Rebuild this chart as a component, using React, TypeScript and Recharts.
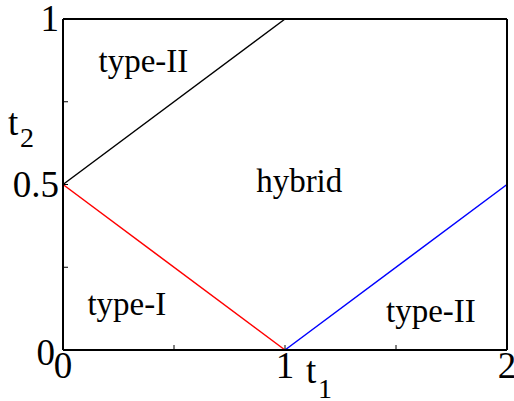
import { LineChart, Line, XAxis, YAxis, ReferenceDot } from 'recharts';

// phase boundaries in (t1, t2)
const upperBoundary = [
  { t1: 0, t2: 0.5 },
  { t1: 1, t2: 1 },
];
const lowerBoundary = [
  { t1: 0, t2: 0.5 },
  { t1: 1, t2: 0 },
];
const rightBoundary = [
  { t1: 1, t2: 0 },
  { t1: 2, t2: 0.5 },
];

const xTicks = [0, 0.5, 1, 1.5, 2];
const yTicks = [0, 0.25, 0.5, 0.75, 1];
const xTickLabels: Record<string, string> = { '0': '0', '1': '1', '2': '2' };
const yTickLabels: Record<string, string> = { '0': '0', '0.5': '0.5', '1': '1' };

const regionLabels = [
  { text: 'type-II', t1: 0.16, t2: 0.84 },
  { text: 'hybrid', t1: 0.87, t2: 0.477 },
  { text: 'type-I', t1: 0.11, t2: 0.106 },
  { text: 'type-II', t1: 1.455, t2: 0.085 },
];

const FONT = "'Liberation Serif', 'Times New Roman', serif";
const textStyle = { fontFamily: FONT };
const TICK_LEN = 5;
const TICK_FONT = 37;

function BottomTick({ x, y, payload }: any) {
  const label = xTickLabels[String(payload.value)];
  return (
    <g>
      <line x1={x} x2={x} y1={y} y2={y - TICK_LEN} stroke="#000" strokeWidth={1} />
      {label && (
        <text x={x} y={y + 28} textAnchor="middle" fontSize={TICK_FONT} style={textStyle} fill="#000">
          {label}
        </text>
      )}
    </g>
  );
}

function TopTick({ x, y }: any) {
  return <line x1={x} x2={x} y1={y} y2={y + TICK_LEN} stroke="#000" strokeWidth={1} />;
}

function LeftTick({ x, y, payload }: any) {
  const label = yTickLabels[String(payload.value)];
  const isZero = payload.value === 0;
  return (
    <g>
      <line x1={x} x2={x + TICK_LEN} y1={y} y2={y} stroke="#000" strokeWidth={1} />
      {label && (
        <text
          x={x - (isZero ? 8 : 4)}
          y={y + (isZero ? 15 : 12)}
          textAnchor="end"
          fontSize={TICK_FONT}
          style={textStyle}
          fill="#000"
        >
          {label}
        </text>
      )}
    </g>
  );
}

function RightTick({ x, y }: any) {
  return <line x1={x} x2={x - TICK_LEN} y1={y} y2={y} stroke="#000" strokeWidth={1} />;
}

function RegionText({ viewBox, value }: any) {
  return (
    <text x={viewBox.x} y={viewBox.y} fontSize={33} style={textStyle} fill="#000">
      {value}
    </text>
  );
}

const axisLine = { stroke: '#000', strokeWidth: 2 };

export default function App() {
  return (
    <div style={{ position: 'absolute', left: 0, top: 0, width: 514, height: 401, background: '#fff' }}>
      <LineChart width={514} height={401} margin={{ top: 18, right: 6, bottom: 50, left: 62 }}>
        <XAxis
          dataKey="t1"
          type="number"
          domain={[0, 2]}
          ticks={xTicks}
          height={1}
          tickSize={0}
          tickMargin={0}
          tickLine={false}
          axisLine={axisLine}
          tick={<BottomTick />}
          interval={0}
        />
        <XAxis
          xAxisId="top"
          orientation="top"
          dataKey="t1"
          type="number"
          domain={[0, 2]}
          ticks={xTicks}
          height={1}
          tickSize={0}
          tickMargin={0}
          tickLine={false}
          axisLine={axisLine}
          tick={<TopTick />}
          interval={0}
        />
        <YAxis
          type="number"
          domain={[0, 1]}
          ticks={yTicks}
          width={1}
          tickSize={0}
          tickMargin={0}
          tickLine={false}
          axisLine={axisLine}
          tick={<LeftTick />}
          interval={0}
        />
        <YAxis
          yAxisId="right"
          orientation="right"
          type="number"
          domain={[0, 1]}
          ticks={yTicks}
          width={1}
          tickSize={0}
          tickMargin={0}
          tickLine={false}
          axisLine={axisLine}
          tick={<RightTick />}
          interval={0}
        />
        <Line data={upperBoundary} dataKey="t2" stroke="#000000" strokeWidth={1.5} dot={false} isAnimationActive={false} />
        <Line data={lowerBoundary} dataKey="t2" stroke="#ff0000" strokeWidth={1.5} dot={false} isAnimationActive={false} />
        <Line data={rightBoundary} dataKey="t2" stroke="#0000ff" strokeWidth={1.5} dot={false} isAnimationActive={false} />
        {regionLabels.map((r, i) => (
          <ReferenceDot
            key={i}
            x={r.t1}
            y={r.t2}
            r={0}
            stroke="none"
            fill="none"
            label={<RegionText value={r.text} />}
          />
        ))}
      </LineChart>
      <svg
        width={514}
        height={401}
        style={{ position: 'absolute', left: 0, top: 0, pointerEvents: 'none' }}
      >
        <text x={306} y={383} fontSize={37} style={textStyle} fill="#000">
          t
          <tspan x={318} y={398} fontSize={28}>1</tspan>
        </text>
        <text x={8} y={135} fontSize={37} style={textStyle} fill="#000">
          t
          <tspan x={20} y={147} fontSize={28}>2</tspan>
        </text>
      </svg>
    </div>
  );
}
